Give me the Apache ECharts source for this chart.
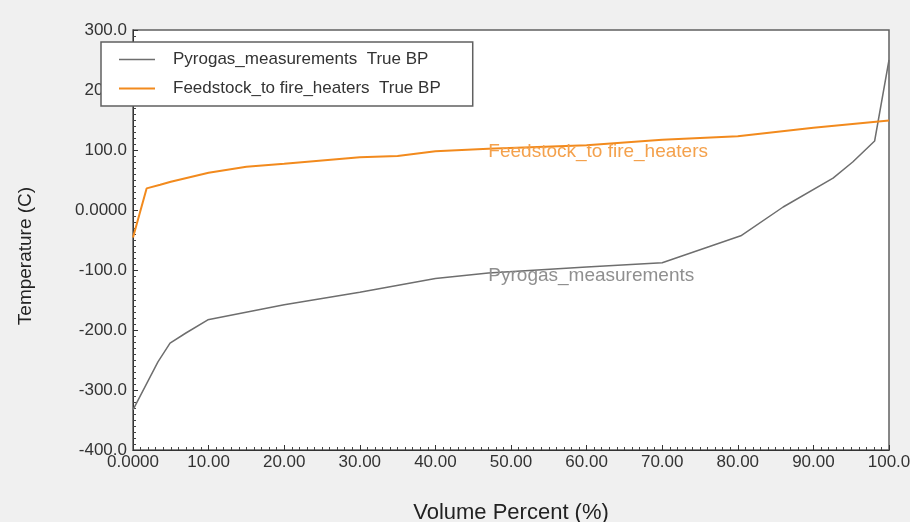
<!DOCTYPE html>
<html>
<head>
<meta charset="utf-8">
<script src="https://cdn.jsdelivr.net/npm/echarts@6/dist/echarts.min.js"></script>
<style>
	html, body { margin: 0; padding: 0; background: #f0f0f0; }
	#chart { width: 910px; height: 522px; }
</style>
</head>
<body>
<div id="chart"></div>
<script type="text/javascript">
	var pyroX = [0, 3.3, 4.9, 7, 9.9, 20, 30, 40, 47, 60, 70, 80.4, 86, 92.6, 95.2, 98.1, 100];
	var pyroY = [-333, -253, -222, -205, -183, -158, -137, -114, -105, -95, -88, -43, 5, 53, 80, 115, 250];
	var feedX = [0, 1.8, 3.6, 5, 10, 15, 20, 30, 35, 40, 47, 60, 70, 80, 90, 100];
	var feedY = [-46, 36, 42, 47, 62, 72, 77, 88, 90, 98, 102, 108, 117, 123, 137, 149];
	var seriesNames = ['Pyrogas_measurements  True BP', 'Feedstock_to fire_heaters  True BP'];

	function pairs(xs, ys) {
		var list = [];
		for (var i = 0; i < xs.length; i++) list.push([xs[i], ys[i]]);
		return list;
	}

	var chart = echarts.init(document.getElementById('chart'));
	var option = {
		backgroundColor: '#f0f0f0',
		textStyle: { fontFamily: 'Liberation Sans, Arial, sans-serif' },
		animation: false,
		grid: {
			left: 133, right: 21, top: 30, bottom: 72,
			containLabel: false,
			outerBoundsMode: 'none',
			show: true,
			backgroundColor: '#fff',
			borderColor: '#606060',
			borderWidth: 1.5
		},
		legend: {
			orient: 'vertical',
			left: 101, top: 42,
			padding: [9, 32, 9, 18],
			itemGap: 12,
			itemWidth: 36, itemHeight: 10,
			backgroundColor: '#fff',
			borderColor: '#606060',
			borderWidth: 1.5,
			borderRadius: 0,
			textStyle: { color: '#333', fontSize: 17, padding: [0, 0, 0, 13] },
			data: [
				{ name: seriesNames[0], icon: 'path://M0,0L36,0L36,1.5L0,1.5Z' },
				{ name: seriesNames[1], icon: 'path://M0,0L36,0L36,2L0,2Z' }
			]
		},
		xAxis: {
			type: 'value',
			min: 0, max: 100, interval: 10,
			name: 'Volume Percent (%)',
			nameLocation: 'middle',
			nameGap: 52,
			nameTextStyle: { color: '#222', fontSize: 22 },
			axisLine: { onZero: false, lineStyle: { color: '#333' } },
			axisTick: { inside: true, length: 5, lineStyle: { color: '#333' } },
			minorTick: { show: true, splitNumber: 10, length: 3, lineStyle: { color: '#444' } },
			splitLine: { show: false },
			axisLabel: {
				color: '#333', fontSize: 17, margin: 4,
				formatter: function (v) {
					if (v === 0) return '0.0000';
					if (v === 100) return '100.0';
					return v.toFixed(2);
				}
			}
		},
		yAxis: {
			type: 'value',
			min: -400, max: 300, interval: 100,
			name: 'Temperature (C)',
			nameLocation: 'middle',
			nameGap: 98,
			nameRotate: 90,
			nameTextStyle: { color: '#222', fontSize: 19, padding: [0, 32, 0, 0] },
			axisLine: { show: true, onZero: false, lineStyle: { color: '#333' } },
			axisTick: { show: true, inside: true, length: 5, lineStyle: { color: '#333' } },
			minorTick: { show: true, splitNumber: 10, length: 3, lineStyle: { color: '#444' } },
			splitLine: { show: false },
			axisLabel: {
				color: '#333', fontSize: 17, margin: 6,
				formatter: function (v) {
					if (v === 0) return '0.0000';
					return v.toFixed(1);
				}
			}
		},
		series: [
			{
				name: seriesNames[0],
				type: 'line',
				symbol: 'none',
				color: '#6e6e6e',
				lineStyle: { width: 1.5, color: '#6e6e6e' },
				data: pairs(pyroX, pyroY),
				markPoint: {
					symbol: 'circle', symbolSize: 0,
					label: {
						show: true, position: 'right', distance: 0,
						color: '#8f8f8f', fontSize: 19,
						formatter: 'Pyrogas_measurements'
					},
					data: [{ coord: [47, -110] }]
				}
			},
			{
				name: seriesNames[1],
				type: 'line',
				symbol: 'none',
				color: '#f28a1d',
				lineStyle: { width: 2, color: '#f28a1d' },
				data: pairs(feedX, feedY),
				markPoint: {
					symbol: 'circle', symbolSize: 0,
					label: {
						show: true, position: 'right', distance: 0,
						color: '#f4a14c', fontSize: 19,
						formatter: 'Feedstock_to fire_heaters'
					},
					data: [{ coord: [47, 97] }]
				}
			}
		]
	};
	chart.setOption(option);
	window.onresize = function () {
		chart.resize();
	};
</script>
</body>
</html>
